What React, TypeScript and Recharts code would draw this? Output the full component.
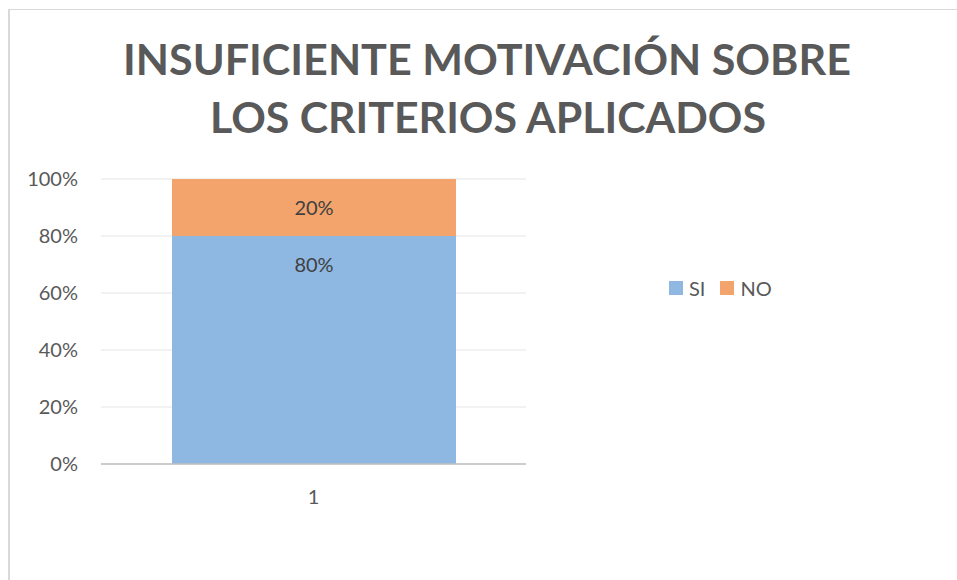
import React from 'react';
import { BarChart, Bar, XAxis, YAxis, CartesianGrid, Legend, LabelList } from 'recharts';

// datos del gráfico
const categories = ['1'];
const siValues = [0.8];
const noValues = [0.2];
const yTicks = [0, 0.2, 0.4, 0.6, 0.8, 1];
const titleLines = ['INSUFICIENTE MOTIVACIÓN SOBRE', 'LOS CRITERIOS APLICADOS'];

const data = categories.map((name, i) => ({ name, SI: siValues[i], NO: noValues[i] }));

const FONT = 'Lato, "Open Sans", sans-serif';
const pct = (v: number) => `${Math.round(v * 100)}%`;

const legendItems = [
  { label: 'SI', color: '#8EB8E2' },
  { label: 'NO', color: '#F3A36C' },
];

function LegendBox() {
  return (
    <div style={{ display: 'flex', alignItems: 'center', fontFamily: FONT, fontSize: 20, color: '#595959' }}>
      {legendItems.map((item) => (
        <div key={item.label} style={{ display: 'flex', alignItems: 'center', marginRight: 15 }}>
          <span style={{ width: 14, height: 14, background: item.color, display: 'inline-block', marginRight: 6 }} />
          <span>{item.label}</span>
        </div>
      ))}
    </div>
  );
}

export default function App() {
  return (
    <div style={{ position: 'absolute', left: 0, top: 0, width: 957, height: 580, background: '#fff' }}>
      <div
        style={{
          position: 'absolute', left: 8, top: 9, width: 960, height: 600,
          borderLeft: '2px solid #d9d9d9', borderTop: '1px solid #d9d9d9',
        }}
      />
      <svg width={957} height={160} style={{ position: 'absolute', left: 0, top: 0 }}>
        <text x={487} y={75} textAnchor="middle" fontFamily={FONT} fontWeight={700} fontSize={42} fill="#595959"
          textLength={728} lengthAdjust="spacingAndGlyphs">{titleLines[0]}</text>
        <text x={488} y={133} textAnchor="middle" fontFamily={FONT} fontWeight={700} fontSize={42} fill="#595959"
          textLength={556} lengthAdjust="spacingAndGlyphs">{titleLines[1]}</text>
      </svg>
      <div style={{ position: 'absolute', left: 0, top: 0 }}>
        <BarChart width={957} height={580} data={data} margin={{ top: 179, right: 431, bottom: 86, left: 41 }}>
          <CartesianGrid vertical={false} stroke="#eeeeee" strokeWidth={1.5} />
          <XAxis
            dataKey="name"
            height={30}
            tickLine={false}
            tickSize={0}
            tickMargin={26}
            axisLine={{ stroke: '#bfbfbf', strokeWidth: 1.5 }}
            tick={{ fill: '#595959', fontSize: 20, fontFamily: FONT }}
          />
          <YAxis
            width={60}
            domain={[0, 1]}
            ticks={yTicks}
            tickFormatter={pct}
            axisLine={false}
            tickLine={false}
            tickSize={0}
            tickMargin={23}
            tick={{ fill: '#595959', fontSize: 20, fontFamily: FONT }}
          />
          <Legend
            layout="horizontal"
            verticalAlign="middle"
            align="center"
            content={() => <LegendBox />}
            wrapperStyle={{ left: 669, top: 276, width: 'auto' }}
          />
          <Bar dataKey="SI" stackId="a" fill="#8EB8E2" barSize={284} isAnimationActive={false}>
            <LabelList dataKey="SI" position="insideTop" offset={22} formatter={pct}
              style={{ fill: '#404040', fontSize: 20, fontFamily: FONT }} />
          </Bar>
          <Bar dataKey="NO" stackId="a" fill="#F3A36C" barSize={284} isAnimationActive={false}>
            <LabelList dataKey="NO" position="center" formatter={pct}
              style={{ fill: '#404040', fontSize: 20, fontFamily: FONT }} />
          </Bar>
        </BarChart>
      </div>
    </div>
  );
}
